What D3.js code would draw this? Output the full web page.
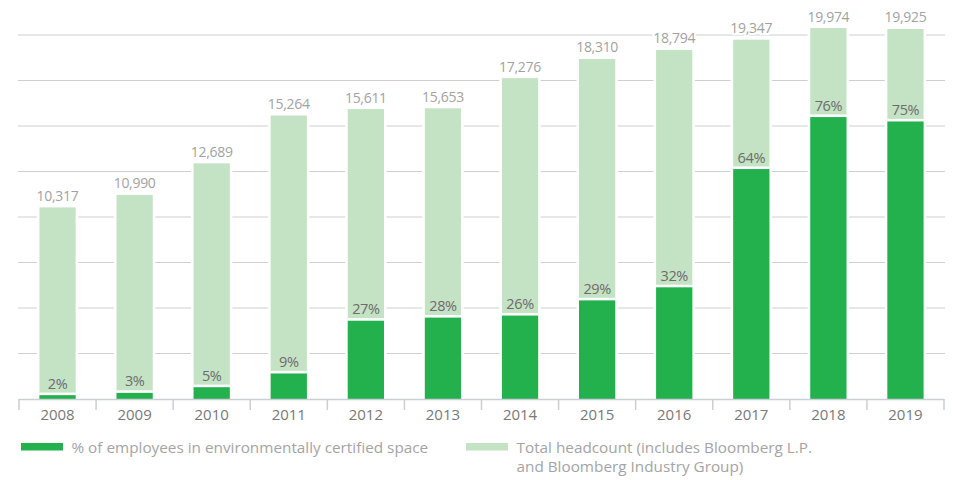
<!DOCTYPE html>
<html>
<head>
<meta charset="utf-8">
<script src="https://cdn.jsdelivr.net/npm/d3@7/dist/d3.min.js"></script>
<style>
  html, body { margin: 0; padding: 0; background: #fff; }
  svg { display: block; font-family: "Open Sans", "Noto Sans", sans-serif; }
</style>
</head>
<body>
<svg id="chart" width="953" height="480"></svg>
<script>
// Bloomberg headcount and share of staff in environmentally certified space
const years = ["2008", "2009", "2010", "2011", "2012", "2013", "2014", "2015", "2016", "2017", "2018", "2019"];
const headcount = [10317, 10990, 12689, 15264, 15611, 15653, 17276, 18310, 18794, 19347, 19974, 19925];
const certifiedPct = [2, 3, 5, 9, 27, 28, 26, 29, 32, 64, 76, 75];
const gridStep = 2450;
const gridCount = 8;
const legendLabels = [
  ["% of employees in environmentally certified space"],
  ["Total headcount (includes Bloomberg L.P.", "and Bloomberg Industry Group)"]
];

const colors = {
  dark: "#22b14c",
  light: "#c4e2c4",
  grid: "#cfcfcf",
  axis: "#c9cfd4",
  countText: "#a2a2a2",
  pctText: "#6c6c6c",
  yearText: "#787878",
  legendText: "#a4a4a4"
};

const svg = d3.select("#chart");
const plotLeft = 19, plotRight = 944, baseline = 399, plotTop = 35;

const x = d3.scaleBand()
  .domain(years)
  .range([plotLeft, plotRight])
  .paddingInner(0.53)
  .paddingOuter(0.265);

const y = d3.scaleLinear()
  .domain([0, gridStep * gridCount])
  .range([baseline, plotTop]);

const rows = years.map((yr, i) => ({
  year: yr,
  total: headcount[i],
  pct: certifiedPct[i],
  certified: headcount[i] * certifiedPct[i] / 100
}));

// horizontal gridlines
svg.append("g")
  .selectAll("line")
  .data(d3.range(1, gridCount + 1).map(i => i * gridStep))
  .join("line")
  .attr("x1", plotLeft - 1)
  .attr("x2", plotRight + 1)
  .attr("y1", d => y(d))
  .attr("y2", d => y(d))
  .attr("stroke", colors.grid)
  .attr("stroke-width", 1.2);

const halo = 2.6;
const bars = svg.append("g");

// white halo behind total bars cuts the gridlines
bars.selectAll("rect.halo")
  .data(rows)
  .join("rect")
  .attr("class", "halo")
  .attr("x", d => x(d.year) - halo)
  .attr("width", x.bandwidth() + 2 * halo)
  .attr("y", d => y(d.total) - halo)
  .attr("height", d => baseline - y(d.total) + halo)
  .attr("fill", "#fff");

bars.selectAll("rect.total")
  .data(rows)
  .join("rect")
  .attr("class", "total")
  .attr("x", d => x(d.year))
  .attr("width", x.bandwidth())
  .attr("y", d => y(d.total))
  .attr("height", d => baseline - y(d.total))
  .attr("fill", colors.light);

// certified share, drawn as a portion of each year's headcount
bars.selectAll("rect.gap")
  .data(rows)
  .join("rect")
  .attr("class", "gap")
  .attr("x", d => x(d.year))
  .attr("width", x.bandwidth())
  .attr("y", d => y(d.certified) - halo)
  .attr("height", d => baseline - y(d.certified) + halo)
  .attr("fill", "#fff");

bars.selectAll("rect.certified")
  .data(rows)
  .join("rect")
  .attr("class", "certified")
  .attr("x", d => x(d.year))
  .attr("width", x.bandwidth())
  .attr("y", d => y(d.certified))
  .attr("height", d => baseline - y(d.certified))
  .attr("fill", colors.dark);

// headcount labels above the bars
svg.append("g")
  .selectAll("text")
  .data(rows)
  .join("text")
  .attr("x", d => x(d.year) + x.bandwidth() / 2)
  .attr("y", d => y(d.total) - 6.5)
  .attr("text-anchor", "middle")
  .attr("font-size", 14)
  .attr("letter-spacing", -0.3)
  .attr("fill", colors.countText)
  .attr("stroke", "#fff")
  .attr("stroke-width", 4)
  .attr("paint-order", "stroke")
  .text(d => d3.format(",")(d.total));

// percentage labels above the certified portion
svg.append("g")
  .selectAll("text")
  .data(rows)
  .join("text")
  .attr("x", d => x(d.year) + x.bandwidth() / 2)
  .attr("y", d => y(d.certified) - 6.5)
  .attr("text-anchor", "middle")
  .attr("font-size", 14.5)
  .attr("letter-spacing", -0.4)
  .attr("fill", colors.pctText)
  .text(d => d.pct + "%");

// x axis with ticks at band boundaries
const axis = svg.append("g");
axis.append("line")
  .attr("x1", plotLeft).attr("x2", plotRight)
  .attr("y1", baseline + 0.5).attr("y2", baseline + 0.5)
  .attr("stroke", colors.axis)
  .attr("stroke-width", 1.5);
axis.selectAll("line.tick")
  .data(d3.range(years.length + 1))
  .join("line")
  .attr("class", "tick")
  .attr("x1", i => plotLeft + i * x.step())
  .attr("x2", i => plotLeft + i * x.step())
  .attr("y1", baseline)
  .attr("y2", baseline + 11)
  .attr("stroke", colors.axis)
  .attr("stroke-width", 1.5);
axis.selectAll("text")
  .data(years)
  .join("text")
  .attr("x", d => x(d) + x.bandwidth() / 2)
  .attr("y", 420)
  .attr("text-anchor", "middle")
  .attr("font-size", 15)
  .attr("fill", colors.yearText)
  .text(d => d);

// legend
const legend = svg.append("g");
const legendX = [21, 466];
[colors.dark, colors.light].forEach((c, i) => {
  const g = legend.append("g").attr("transform", `translate(${legendX[i]},443)`);
  g.append("rect").attr("width", 42).attr("height", 7.5).attr("fill", c);
  g.selectAll("text")
    .data(legendLabels[i])
    .join("text")
    .attr("x", 50.5)
    .attr("y", (d, j) => 10.3 + j * 18.7)
    .attr("font-size", 15.3)
    .attr("fill", colors.legendText)
    .text(d => d);
});
</script>
</body>
</html>
